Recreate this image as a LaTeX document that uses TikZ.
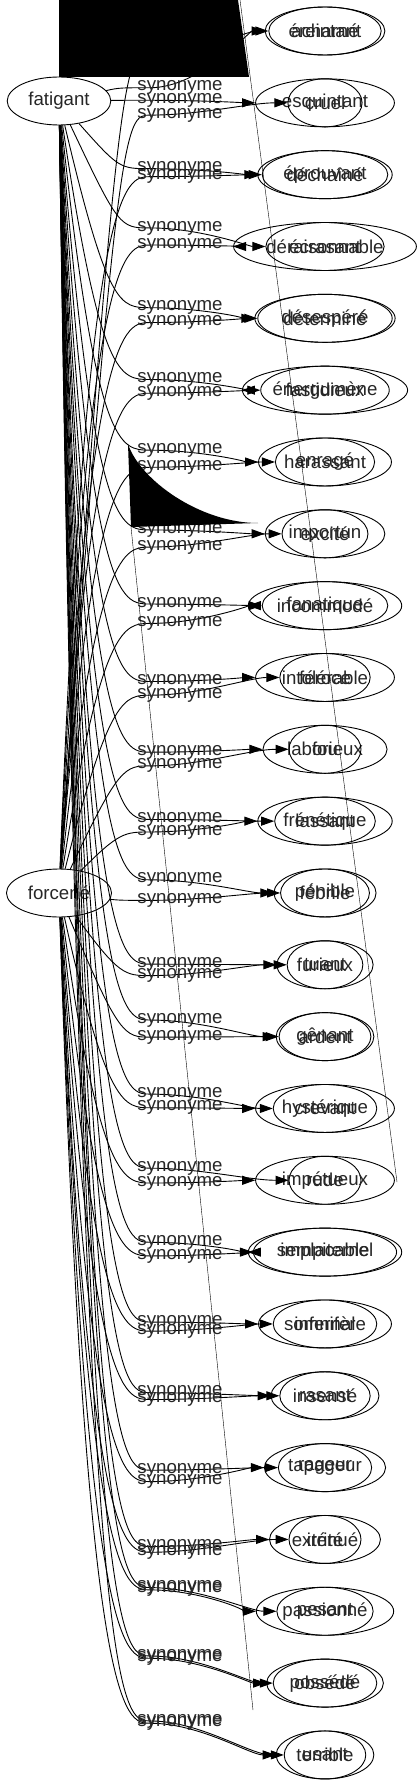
\documentclass[tikz,border=0pt]{standalone}
\usepackage{fontspec}
\setmainfont{Liberation Sans}
\usetikzlibrary{arrows.meta, shapes.geometric}

\begin{document}
\begin{tikzpicture}[x=1pt, y=1pt,
        % ===== Styles =====
        mot/.style={ellipse, draw, line width=0.9pt, inner xsep=6pt, inner ysep=2pt,
                    minimum width=72pt, minimum height=48pt,
                    font=\fontsize{18.67}{20}\selectfont, text=black!85},
        syn/.style={-{Triangle[length=13pt,width=9pt]}, line width=0.9pt},
        lbl/.style={font=\fontsize{18.67}{20}\selectfont, text=black!85, inner sep=0pt},
        trace/.style={line width=0.4pt}
    ]
    \useasboundingbox (0,0) rectangle (418,-1787);

    % ===== Sources =====
    \node[mot] (fat) at (59,-101) {fatigant};
    \node[mot] (forc) at (59,-893) {forcené};

    % ===== Synonymes (deux graphes superposes) =====
    \foreach \i/\wa/\wb/\la/\lb in {%
        1/éreintant/acharné/77/45,
        2/esquintant/cruel/88/101,
        3/éprouvant/déchaîné/148/155,
        4/écrasant/déraisonnable/200/215,
        5/désespéré/déterminé/270/283,
        6/fastidieux/énergumène/333/345,
        7/harassant/enragé/395/410,
        8/importun/excité/465/480,
        9/incommodé/fanatique/530/547,
        10/intolérable/féroce/598/610,
        11/laborieux/fou/660/672,
        12/lassant/frénétique/719/730,
        13/pénible/fébrile/772/790,
        14/tuant/furieux/846/856,
        15/gênant/ardent/895/910,
        16/crevant/hystérique/960/972,
        17/rude/impétueux/1025/1038,
        18/implacable/sempiternel/1090/1102,
        19/somnifère/infernal/1160/1168,
        20/rasant/insensé/1222/1228,
        21/rageur/tapageur/1290/1300,
        22/exténué/irrité/1357/1362,
        23/pesant/passionné/1393/1395,
        24/obsédé/possédé/1453/1455,
        25/usant/terrible/1510/1512%
    }{
        \pgfmathsetmacro\ty{-31-71.83*(\i-1)}
        \pgfmathsetmacro\ya{-1.1397*\la}
        \pgfmathsetmacro\yb{-1.1397*\lb}
        \pgfmathsetmacro\ca{79+40*min(1,150/(abs(\ya+101)+1))}
        \pgfmathsetmacro\cb{max(\i<3 ? 118 : 0, 79+40*min(1,150/(abs(\yb+893)+1)))}
        \node[mot] (a\i) at (325,\ty) {\wa};
        \node[mot] (b\i) at (325,\ty) {\wb};
        \draw[syn] (fat) .. controls (\ca,\ya) and (120,\ya) .. (150,\ya)
            .. controls (200,\ya) and (250,\ty) .. (a\i);
        \draw[syn] (forc) .. controls (\cb,\yb) and (125,\yb) .. (150,\yb)
            .. controls (200,\yb) and (250,\ty) .. (b\i);
        \node[lbl] (la\i) at (180,\ya) {synonyme};
        \node[lbl] (lb\i) at (180,\yb) {synonyme};
    }

    % ===== Taches et traits parasites =====
    \fill (59,0) -- (238,0) -- (249,-77) -- (59,-77) -- cycle;
    \fill (128,-444) .. controls (140,-480) and (200,-523) .. (258,-523)
        -- (131,-527) -- cycle;
    \draw[trace] (240,0) -- (397,-1182);
    \draw[trace] (131,-527) -- (253,-1710);
\end{tikzpicture}
\end{document}
